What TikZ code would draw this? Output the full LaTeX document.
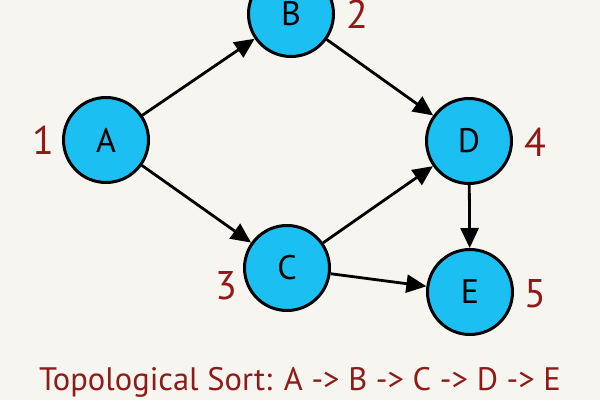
\documentclass[tikz,border=0pt]{standalone}
\usepackage{fontspec}
\setmainfont{PT Sans}
\usetikzlibrary{arrows.meta}
\definecolor{bg}{HTML}{F6F5F0}
\definecolor{nodefill}{HTML}{1CBFF2}
\definecolor{lbl}{HTML}{8E1B17}
\tikzset{
  vert/.style={circle, draw=black, line width=3pt, fill=nodefill, minimum size=85pt, inner sep=0pt, font=\fontsize{34}{36}\selectfont},
  order/.style={text=lbl, font=\fontsize{40}{42}\selectfont, inner sep=0pt},
  edge/.style={-{Triangle[length=20pt,width=18pt]}, line width=2.8pt}
}
\begin{document}
\begin{tikzpicture}[x=1pt,y=-1pt]
\fill[bg] (0,0) rectangle (600,400);
\useasboundingbox (0,0) rectangle (600,400);
\node[vert] (A) at (106,140) {A};
\node[vert] (B) at (291,14) {B};
\node[vert] (C) at (287,268) {C};
\node[vert] (D) at (469,141) {D};
\node[vert] (E) at (470,292) {E};
\node[order] (n1) at (43,140) {1};
\node[order] (n2) at (357,14) {2};
\node[order] (n3) at (226,286) {3};
\node[order] (n4) at (535,142) {4};
\node[order] (n5) at (535,294) {5};
\draw[edge] (A) -- (B);
\draw[edge] (A) -- (C);
\draw[edge] (B) -- (D);
\draw[edge] (C) -- (D);
\draw[edge] (D) -- (E);
\draw[edge] (C) -- (E);
\node[text=lbl, font=\fontsize{32.5}{34}\selectfont] (title) at (300,382) {Topological Sort: A -> B -> C -> D -> E};
\end{tikzpicture}
\end{document}
